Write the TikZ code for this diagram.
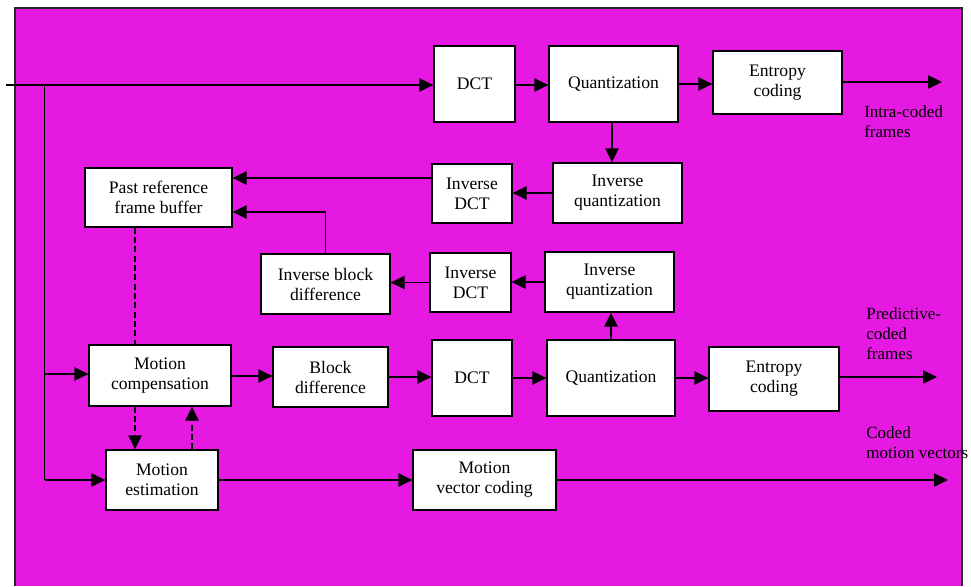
\documentclass[tikz,border=0pt]{standalone}
\usepackage{fontspec}
\setmainfont{Liberation Serif}
\usetikzlibrary{arrows.meta,calc}
\definecolor{bgmag}{RGB}{229,25,225}
\tikzset{
  blk/.style={draw=black, line width=1pt, fill=white, inner sep=0pt, align=center,
    font=\fontsize{13.2}{15}\selectfont},
  arr/.style={line width=1pt, -{Triangle[length=10.5pt,width=10pt]}},
  ln/.style={line width=1pt},
  dsh/.style={line width=1pt, dash pattern=on 4.5pt off 2.5pt},
  darr/.style={dsh, -{Triangle[length=10.5pt,width=10pt]}},
  lbl/.style={inner sep=0pt, align=left, anchor=west, font=\fontsize{12.8}{15}\selectfont}
}
\begin{document}
\begin{tikzpicture}[x=0.75pt,y=-0.75pt]
\useasboundingbox (0,0) rectangle (971,586);
\fill[white] (0,0) rectangle (971,586);
\fill[bgmag] (15,8) rectangle (962,586);
\draw[line width=1.5pt, black!85] (15,586) -- (15,8) -- (962,8) -- (962,586);

% boxes
\node[blk, minimum width=81*0.75pt, minimum height=76*0.75pt] (D1) at (474.5,84) {DCT};
\node[blk, minimum width=129*0.75pt, minimum height=76*0.75pt] (Q1) at (613.5,84) {Quantization};
\node[blk, minimum width=129*0.75pt, minimum height=63*0.75pt] (E1) at (777.5,82.5) {Entropy\\coding};
\node[blk, minimum width=129*0.75pt, minimum height=60*0.75pt] (IQ1) at (617.5,193) {Inverse\\quantization};
\node[blk, minimum width=80*0.75pt, minimum height=59*0.75pt] (ID1) at (472,193.5) {Inverse\\DCT};
\node[blk, minimum width=147*0.75pt, minimum height=59*0.75pt] (PB) at (158.5,197.5) {Past reference\\frame buffer};
\node[blk, minimum width=129*0.75pt, minimum height=60*0.75pt] (IBD) at (325.5,284) {Inverse block\\difference};
\node[blk, minimum width=81*0.75pt, minimum height=59*0.75pt] (ID2) at (470.5,282.5) {Inverse\\DCT};
\node[blk, minimum width=129*0.75pt, minimum height=60*0.75pt] (IQ2) at (609.5,282) {Inverse\\quantization};
\node[blk, minimum width=142*0.75pt, minimum height=61*0.75pt] (MC) at (160,375.5) {Motion\\compensation};
\node[blk, minimum width=115*0.75pt, minimum height=60*0.75pt] (BD) at (330.5,377) {Block\\difference};
\node[blk, minimum width=80*0.75pt, minimum height=76*0.75pt] (D2) at (472,378) {DCT};
\node[blk, minimum width=128*0.75pt, minimum height=76*0.75pt] (Q2) at (611,378) {Quantization};
\node[blk, minimum width=130*0.75pt, minimum height=64*0.75pt] (E2) at (774,379) {Entropy\\coding};
\node[blk, minimum width=112*0.75pt, minimum height=60*0.75pt] (ME) at (162,480) {Motion\\estimation};
\node[blk, minimum width=143*0.75pt, minimum height=60*0.75pt] (MVC) at (484.5,480) {Motion\\vector coding};

% labels
\node[lbl] (L1) at (864,122) {Intra-coded\\frames};
\node[lbl] (L2) at (866,334) {Predictive-\\coded\\frames};
\node[lbl] (L3) at (866,442.5) {Coded\\motion vectors};

% helper coordinates
\coordinate (in) at (6,85);
\coordinate (j) at (44.7,85);
\coordinate (jb) at (44.7,480);
\coordinate (jm) at (44.7,374);
\coordinate (o1) at (942,82);
\coordinate (o2) at (937,377);
\coordinate (o3) at (948,480);
\coordinate (p1) at (0,178);
\coordinate (p2) at (0,212);
\coordinate (d1) at (135,0);
\coordinate (d2) at (192,0);

% input
\draw[arr] (in) -- (in -| D1.west);
\draw[ln] (j) -- (jb);
\draw[arr] (jm) -- (jm -| MC.west);
\draw[arr] (jb) -- (ME.west);

% top row
\draw[arr] (D1.east |- in) -- (Q1.west |- in);
\draw[arr] (Q1.east) -- (Q1.east -| E1.west);
\draw[arr] (E1.east |- o1) -- (o1);
\draw[arr] (Q1.south -| IQ1.north) ++(-5.5,0) coordinate (qd) -- (qd |- IQ1.north);
\draw[arr] (IQ1.west) -- (IQ1.west -| ID1.east);
\draw[arr] (ID1.west |- p1) -- (PB.east |- p1);
\draw[arr] (IBD.north) |- (PB.east |- p2);
\draw[arr] (IQ2.west) -- (IQ2.west -| ID2.east);
\draw[arr] (ID2.west) -- (ID2.west -| IBD.east);
\draw[arr] (Q2.north -| IQ2.south) ++(1.5,0) coordinate (qu) -- (qu |- IQ2.south);

% middle row
\draw[arr] (MC.east |- BD.west) ++(0,-1) coordinate (m1) -- (m1 -| BD.west);
\draw[arr] (BD.east) -- (BD.east -| D2.west);
\draw[arr] (D2.east) -- (D2.east -| Q2.west);
\draw[arr] (Q2.east |- D2.east) -- (E2.west |- D2.east);
\draw[arr] (E2.east |- o2) -- (o2);

% bottom row
\draw[arr] (ME.east) -- (MVC.west);
\draw[arr] (MVC.east) -- (o3);

% dashed
\draw[dsh] (PB.south -| d1) -- (MC.north -| d1);
\draw[darr] (MC.south -| d1) -- (ME.north -| d1);
\draw[darr] (ME.north -| d2) -- (MC.south -| d2);
\end{tikzpicture}
\end{document}
